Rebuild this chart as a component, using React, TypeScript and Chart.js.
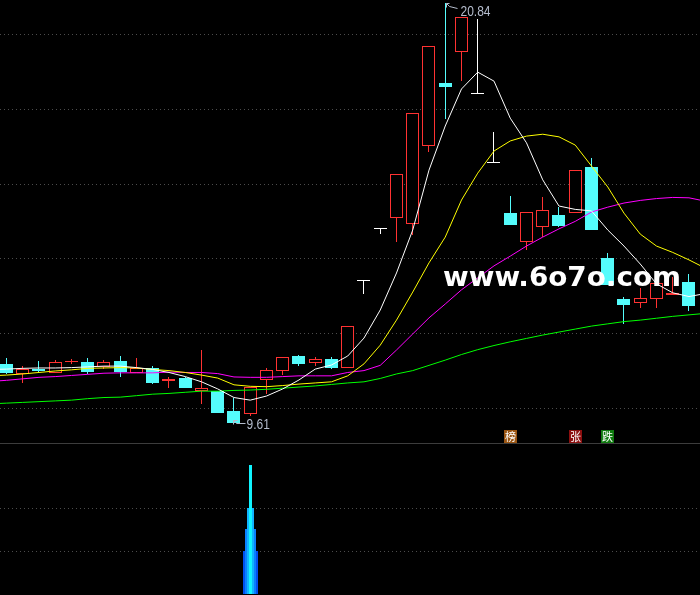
import React, { useEffect, useRef } from 'react';
import { Chart, registerables } from 'chart.js';

Chart.register(...registerables);

// ---------- data ----------
const days = Array.from({ length: 43 }, (_, i) => i);
// moving averages also cover one off-screen day on each side (-1 and 43)
const maDays = Array.from({ length: 45 }, (_, i) => i - 1);

const opens = [11.18, 10.92, 11.04, 10.93, 11.22, 11.23, 11.10, 11.26, 10.94, 11.07, 10.71, 10.79, 10.46, 10.45, 9.92, 9.84, 10.74, 10.98, 11.39, 11.21, 11.30, 11.06, 13.40, 14.78, 15.07, 14.93, 17.01, 18.69, 19.51, 18.39, 16.54, 15.21, 14.43, 14.83, 15.15, 15.21, 16.44, 14.01, 12.91, 12.80, 12.92, 13.02, 13.36];
const highs = [11.34, 11.12, 11.26, 11.28, 11.31, 11.33, 11.28, 11.39, 11.35, 11.12, 10.84, 10.82, 11.55, 10.45, 10.26, 10.57, 11.08, 11.36, 11.42, 11.36, 11.36, 12.19, 13.40, 14.78, 16.25, 17.88, 19.67, 20.84, 20.45, 20.40, 17.38, 15.67, 15.23, 15.63, 15.37, 16.36, 16.68, 14.14, 12.98, 13.20, 13.33, 13.50, 13.58];
const lows = [10.92, 10.68, 10.94, 10.93, 11.18, 10.91, 11.03, 10.84, 10.94, 10.63, 10.53, 10.54, 10.10, 9.87, 9.61, 9.79, 10.37, 10.89, 11.13, 11.13, 11.03, 11.06, 13.04, 14.65, 14.45, 14.63, 16.85, 17.74, 18.75, 18.39, 16.54, 14.90, 14.22, 14.58, 14.83, 15.21, 14.77, 13.29, 12.24, 12.68, 12.68, 13.02, 12.60];
const closes = [10.94, 11.04, 10.98, 11.23, 11.23, 10.97, 11.23, 10.96, 11.06, 10.68, 10.78, 10.54, 10.53, 9.87, 9.61, 10.57, 11.01, 11.36, 11.18, 11.31, 11.08, 12.19, 13.40, 14.78, 16.25, 17.88, 19.67, 18.59, 20.45, 18.39, 16.54, 14.90, 15.23, 15.29, 14.87, 16.36, 14.77, 13.29, 12.75, 12.93, 13.33, 13.07, 12.74];

const ma5 = [11.03, 11.04, 11.06, 11.07, 11.07, 11.08, 11.10, 11.12, 11.12, 11.08, 11.03, 10.95, 10.84, 10.70, 10.51, 10.28, 10.21, 10.32, 10.51, 10.75, 11.04, 11.15, 11.39, 11.87, 12.62, 13.61, 14.76, 16.36, 17.54, 18.53, 18.98, 18.74, 17.75, 17.09, 16.10, 15.40, 15.31, 15.27, 14.76, 14.33, 13.85, 13.32, 13.08, 12.98, 13.06];
const ma10 = [10.86, 10.88, 10.91, 10.95, 10.99, 11.02, 11.06, 11.07, 11.08, 11.07, 11.03, 11.00, 10.95, 10.88, 10.80, 10.62, 10.58, 10.57, 10.60, 10.64, 10.67, 10.70, 10.86, 11.18, 11.68, 12.35, 13.10, 13.88, 14.57, 15.56, 16.28, 16.87, 17.14, 17.27, 17.32, 17.25, 17.03, 16.47, 15.91, 15.21, 14.65, 14.33, 14.16, 13.96, 13.74];
const ma20 = [10.71, 10.74, 10.78, 10.82, 10.84, 10.87, 10.90, 10.93, 10.94, 10.94, 10.94, 10.96, 10.95, 10.95, 10.92, 10.83, 10.82, 10.82, 10.84, 10.86, 10.86, 10.86, 10.95, 11.00, 11.14, 11.55, 11.98, 12.41, 12.78, 13.16, 13.48, 13.80, 14.06, 14.33, 14.57, 14.79, 14.99, 15.24, 15.37, 15.48, 15.55, 15.60, 15.63, 15.62, 15.53];
const ma60 = [10.11, 10.13, 10.15, 10.17, 10.19, 10.21, 10.25, 10.28, 10.29, 10.33, 10.37, 10.39, 10.42, 10.45, 10.45, 10.47, 10.48, 10.50, 10.53, 10.56, 10.59, 10.63, 10.67, 10.70, 10.79, 10.91, 11.00, 11.14, 11.28, 11.43, 11.56, 11.67, 11.77, 11.86, 11.95, 12.03, 12.11, 12.19, 12.25, 12.31, 12.35, 12.40, 12.45, 12.49, 12.53];

const gridPrices = [10, 12, 14, 16, 18, 20];
const markerDays = [31, 35, 37];
const markerTexts = ['榜', '张', '跌'];
const signalDay = 15;
const signalLayers = [1.0, 1.5, 2.0, 3.0];
const signalGrid = [1, 2];
const watermarkText = 'www.6o7o.com';

// ---------- styles ----------
const RED = '#ff3232';
const CYAN = '#54fcfc';
const WHITE = '#ffffff';
const LABEL = '#b4bccc';
const markerBg = ['#9a5512', '#8c0f0f', '#0f7a0f'];
const layerWidths = [15, 11, 7, 3];
const layerColors = ['#0050f0', '#0a80ff', '#10b4ff', '#10f4ff'];

const X_MIN = -0.4;
const X_MAX = 42.677;
const Y_MIN = 9.0642;
const Y_MAX = 20.909;

function candleColor(i: number) {
  const o = opens[i];
  const c = closes[i];
  return c > o ? RED : c < o ? CYAN : WHITE;
}

function condensedText(ctx: CanvasRenderingContext2D, t: string, x: number, y: number, sx: number) {
  ctx.save();
  ctx.translate(x, y);
  ctx.scale(sx, 1);
  ctx.fillText(t, 0, 0);
  ctx.restore();
}

// pixel-snap bar elements placed by the scales, for crisp 1px edges
const snapBars = {
  id: 'snapBars',
  beforeDatasetsDraw(chart: any) {
    chart.data.datasets.forEach((_: any, di: number) => {
      const meta = chart.getDatasetMeta(di);
      if (meta.type !== 'bar') return;
      meta.data.forEach((el: any) => {
        el.x = Math.floor(el.x) + 0.5;
        let a = Math.round(el.y);
        let b = Math.round(el.base);
        if (a === b) b = a + 1;
        el.y = a;
        el.base = b;
      });
    });
  },
};

const priceGrid = {
  id: 'priceGrid',
  beforeDatasetsDraw(chart: any) {
    const { ctx, chartArea, scales } = chart;
    ctx.save();
    ctx.strokeStyle = '#4c4c4c';
    ctx.lineWidth = 1;
    ctx.setLineDash([1, 3]);
    for (const v of gridPrices) {
      const py = Math.round(scales.y.getPixelForValue(v)) + 0.5;
      ctx.beginPath();
      ctx.moveTo(chartArea.left, py);
      ctx.lineTo(chartArea.right, py);
      ctx.stroke();
    }
    ctx.restore();
  },
};

const annotations = {
  id: 'annotations',
  afterDatasetsDraw(chart: any) {
    const { ctx, chartArea, scales } = chart;
    const x = scales.x;
    const y = scales.y;
    ctx.save();
    ctx.strokeStyle = LABEL;
    ctx.fillStyle = LABEL;
    ctx.lineWidth = 1;
    ctx.font = '15px "Liberation Sans", Arial, sans-serif';
    ctx.textBaseline = 'alphabetic';

    const hi = highs.indexOf(Math.max(...highs));
    const hx = Math.floor(x.getPixelForValue(hi)) + 0.5;
    const hy = Math.round(y.getPixelForValue(highs[hi])) + 0.5;
    ctx.beginPath();
    ctx.moveTo(hx + 1, hy + 4);
    ctx.lineTo(hx + 1, hy);
    ctx.lineTo(hx + 4, hy);
    ctx.moveTo(hx + 1, hy);
    ctx.lineTo(hx + 4, hy + 3);
    ctx.lineTo(hx + 12, hy + 5);
    ctx.stroke();
    condensedText(ctx, highs[hi].toFixed(2), hx + 15, hy + 12, 0.8);

    const lo = lows.indexOf(Math.min(...lows));
    const lx = Math.floor(x.getPixelForValue(lo)) + 0.5;
    const ly = Math.round(y.getPixelForValue(lows[lo])) + 0.5;
    ctx.beginPath();
    ctx.moveTo(lx, ly - 3);
    ctx.lineTo(lx + 4, ly - 3);
    ctx.moveTo(lx, ly - 3);
    ctx.lineTo(lx, ly + 1);
    ctx.moveTo(lx, ly - 3);
    ctx.lineTo(lx + 3, ly);
    ctx.lineTo(lx + 12, ly);
    ctx.stroke();
    condensedText(ctx, lows[lo].toFixed(2), lx + 13, ly + 5, 0.8);

    // markers
    ctx.font = '11px "Noto Sans CJK SC", sans-serif';
    ctx.textAlign = 'center';
    ctx.textBaseline = 'middle';
    markerDays.forEach((d, k) => {
      const mx = Math.floor(x.getPixelForValue(d));
      const top = Math.round(chartArea.bottom - 13.5);
      ctx.fillStyle = markerBg[k];
      ctx.fillRect(mx - 6, top, 13, 13);
      ctx.fillStyle = '#ffffff';
      ctx.fillText(markerTexts[k], mx + 0.5, top + 7);
    });

    // watermark
    ctx.font = 'bold 26px "DejaVu Sans", sans-serif';
    ctx.textAlign = 'left';
    ctx.textBaseline = 'alphabetic';
    const w = ctx.measureText(watermarkText).width;
    ctx.fillStyle = '#ffffff';
    ctx.translate(443, 286);
    ctx.scale(238 / w, 1);
    ctx.fillText(watermarkText, 0, 0);
    ctx.restore();
  },
};

const panelGrid = {
  id: 'panelGrid',
  beforeDatasetsDraw(chart: any) {
    const { ctx, chartArea, scales } = chart;
    ctx.save();
    ctx.strokeStyle = '#3c3c3c';
    ctx.lineWidth = 1;
    ctx.beginPath();
    ctx.moveTo(chartArea.left, 0.5);
    ctx.lineTo(chartArea.right, 0.5);
    ctx.stroke();
    ctx.strokeStyle = '#4c4c4c';
    ctx.setLineDash([1, 3]);
    for (const v of signalGrid) {
      const py = Math.round(scales.y.getPixelForValue(v)) + 0.5;
      ctx.beginPath();
      ctx.moveTo(chartArea.left, py);
      ctx.lineTo(chartArea.right, py);
      ctx.stroke();
    }
    ctx.restore();
  },
};

function lineSet(label: string, values: number[], color: string, order: number) {
  return {
    type: 'line' as const,
    label,
    data: maDays.map((d, k) => ({ x: d, y: values[k] })),
    borderColor: color,
    borderWidth: 1,
    pointRadius: 0,
    tension: 0,
    fill: false,
    order,
  };
}

export default function App() {
  const topRef = useRef<HTMLCanvasElement>(null);
  const botRef = useRef<HTMLCanvasElement>(null);

  useEffect(() => {
    const top = new Chart(topRef.current as HTMLCanvasElement, {
      type: 'bar',
      data: {
        datasets: [
          lineSet('MA5', ma5, WHITE, 0),
          lineSet('MA10', ma10, '#ffff00', 1),
          lineSet('MA20', ma20, '#ff00ff', 2),
          lineSet('MA60', ma60, '#00ff00', 3),
          {
            type: 'bar',
            label: 'body',
            data: days.map((d) => ({ x: d, y: [opens[d], closes[d]] })) as any,
            backgroundColor: (c: any) => {
              const col = candleColor(c.dataIndex);
              return col === RED ? '#000000' : col;
            },
            borderColor: (c: any) => candleColor(c.dataIndex),
            borderWidth: 1,
            borderSkipped: false,
            barThickness: 13,
            minBarLength: 1,
            grouped: false,
            inflateAmount: 0,
            order: 10,
          } as any,
          {
            type: 'bar',
            label: 'wick',
            data: days.map((d) => ({ x: d, y: [lows[d], highs[d]] })) as any,
            backgroundColor: (c: any) => candleColor(c.dataIndex),
            borderWidth: 0,
            barThickness: 1,
            grouped: false,
            inflateAmount: 0,
            order: 11,
          } as any,
        ],
      },
      options: {
        responsive: false,
        animation: false,
        events: [],
        layout: { padding: 0 },
        plugins: { legend: { display: false }, tooltip: { enabled: false } },
        scales: {
          x: { type: 'linear', min: X_MIN, max: X_MAX, display: false, offset: false },
          y: { type: 'linear', min: Y_MIN, max: Y_MAX, display: false },
        },
      } as any,
      plugins: [snapBars, priceGrid, annotations],
    });

    const bottom = new Chart(botRef.current as HTMLCanvasElement, {
      type: 'bar',
      data: {
        datasets: signalLayers.map((v, k) => ({
          label: 'layer' + k,
          data: [{ x: signalDay, y: v }] as any,
          backgroundColor: layerColors[k],
          borderWidth: 0,
          barThickness: layerWidths[k],
          grouped: false,
          inflateAmount: 0,
          order: signalLayers.length - k,
        })) as any,
      },
      options: {
        responsive: false,
        animation: false,
        events: [],
        layout: { padding: 0 },
        plugins: { legend: { display: false }, tooltip: { enabled: false } },
        scales: {
          x: { type: 'linear', min: X_MIN, max: X_MAX, display: false, offset: false },
          y: { type: 'linear', min: -0.0233, max: 3.5116, display: false },
        },
      } as any,
      plugins: [snapBars, panelGrid],
    });

    return () => {
      top.destroy();
      bottom.destroy();
    };
  }, []);

  return (
    <div style={{ position: 'fixed', left: 0, top: 0, width: 700, height: 595, background: '#000', overflow: 'hidden' }}>
      <canvas ref={topRef} width={700} height={443} style={{ display: 'block' }} />
      <canvas ref={botRef} width={700} height={152} style={{ display: 'block' }} />
    </div>
  );
}
